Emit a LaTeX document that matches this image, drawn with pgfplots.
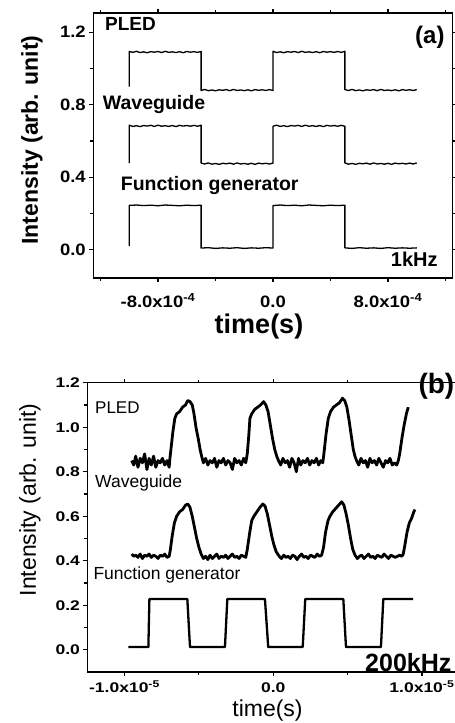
\documentclass[border=0pt]{standalone}
\usepackage{fontspec}
\setmainfont{Liberation Sans}
\usepackage{pgfplots}
\pgfplotsset{compat=1.18}
% tick labels: bold, a little wider than the font
\newcommand{\tla}[1]{\scalebox{1.12}[1]{\fontsize{16.5}{18}\selectfont\bfseries #1}}
\newcommand{\tlb}[1]{\scalebox{1.25}[1]{\fontsize{14}{15}\selectfont\bfseries #1}}

\pgfplotsset{
  scope/.style={
    scale only axis, anchor=south west,
    axis line style={line width=1.3pt},
    tick align=outside, major tick length=4pt, minor tick length=3pt,
    every tick/.style={black, line width=1.1pt},
    cycle list={{black}},
    every axis plot/.append style={black, no marks, line join=round},
  }
}

\begin{document}
\begin{tikzpicture}[x=1pt,y=1pt]
\path[use as bounding box] (0,0) rectangle (455,723);

% ---------------- (a) 1 kHz ----------------
\begin{axis}[scope,
  at={(93.3pt,445pt)}, width=359.4pt, height=265pt,
  xmin=-12.5, xmax=12.5, ymin=-0.155, ymax=1.305,
  xtick={-8,0,8}, minor xtick={-12,-4,4,12},
  xticklabels={\tla{-8.0x10\textsuperscript{-4}},\tla{0.0},\tla{8.0x10\textsuperscript{-4}}},
  ytick={0,0.4,0.8,1.2}, minor ytick={0.2,0.6,1.0},
  yticklabels={\tla{0.0},\tla{0.4},\tla{0.8},\tla{1.2}},
  xticklabel style={anchor=base, yshift=-26pt},
]
% PLED
\addplot[black, line width=1.3pt] table {
-10 0.900
-10 1.093
-9.75 1.088
-9.5 1.094
-9.25 1.087
-9 1.091
-8.75 1.086
-8.5 1.092
-8.25 1.089
-8 1.093
-7.75 1.087
-7.5 1.094
-7.25 1.088
-7 1.091
-6.75 1.087
-6.5 1.092
-6.25 1.086
-6 1.093
-5.75 1.089
-5.5 1.092
-5.25 1.088
-5 1.093
-5 0.878
-4.75 0.884
-4.5 0.877
-4.25 0.881
-4 0.876
-3.75 0.882
-3.5 0.879
-3.25 0.883
-3 0.877
-2.75 0.884
-2.5 0.878
-2.25 0.881
-2 0.877
-1.75 0.882
-1.5 0.876
-1.25 0.883
-1 0.879
-0.75 0.882
-0.5 0.878
-0.25 0.883
0 0.878
0 1.094
0.25 1.087
0.5 1.091
0.75 1.086
1 1.092
1.25 1.089
1.5 1.093
1.75 1.087
2 1.094
2.25 1.088
2.5 1.091
2.75 1.087
3 1.092
3.25 1.086
3.5 1.093
3.75 1.089
4 1.092
4.25 1.088
4.5 1.093
4.75 1.088
5 1.094
5 0.883
5.25 0.878
5.5 0.884
5.75 0.877
6 0.881
6.25 0.876
6.5 0.882
6.75 0.879
7 0.883
7.25 0.877
7.5 0.884
7.75 0.878
8 0.881
8.25 0.877
8.5 0.882
8.75 0.876
9 0.883
9.25 0.879
9.5 0.882
9.75 0.878
10 0.883
};
% Waveguide
\addplot[black, line width=1.3pt] table {
-10 0.478
-10 0.687
-9.75 0.680
-9.5 0.684
-9.25 0.679
-9 0.685
-8.75 0.682
-8.5 0.686
-8.25 0.680
-8 0.687
-7.75 0.681
-7.5 0.684
-7.25 0.680
-7 0.685
-6.75 0.679
-6.5 0.686
-6.25 0.682
-6 0.685
-5.75 0.681
-5.5 0.686
-5.25 0.681
-5 0.687
-5 0.478
-4.75 0.473
-4.5 0.479
-4.25 0.472
-4 0.476
-3.75 0.471
-3.5 0.477
-3.25 0.474
-3 0.478
-2.75 0.472
-2.5 0.479
-2.25 0.473
-2 0.476
-1.75 0.472
-1.5 0.477
-1.25 0.471
-1 0.478
-0.75 0.474
-0.5 0.477
-0.25 0.473
0 0.478
0 0.681
0.25 0.687
0.5 0.680
0.75 0.684
1 0.679
1.25 0.685
1.5 0.682
1.75 0.686
2 0.680
2.25 0.687
2.5 0.681
2.75 0.684
3 0.680
3.25 0.685
3.5 0.679
3.75 0.686
4 0.682
4.25 0.685
4.5 0.681
4.75 0.686
5 0.681
5 0.479
5.25 0.472
5.5 0.476
5.75 0.471
6 0.477
6.25 0.474
6.5 0.478
6.75 0.472
7 0.479
7.25 0.473
7.5 0.476
7.75 0.472
8 0.477
8.25 0.471
8.5 0.478
8.75 0.474
9 0.477
9.25 0.473
9.5 0.478
9.75 0.473
10 0.479
};
% Function generator
\addplot[black, line width=1.3pt] table {
-10 0.020
-10 0.245
-9.5 0.247
-9 0.244
-8.5 0.246
-8 0.243
-7.5 0.247
-7 0.245
-6.5 0.243
-6 0.246
-5.5 0.244
-5 0.246
-5 0.010
-4.5 0.012
-4 0.008
-3.5 0.011
-3 0.009
-2.5 0.012
-2 0.008
-1.5 0.011
-1 0.009
-0.5 0.012
0 0.010
0 0.244
0.5 0.247
1 0.244
1.5 0.246
2 0.243
2.5 0.247
3 0.245
3.5 0.243
4 0.246
4.5 0.244
5 0.246
5 0.011
5.5 0.008
6 0.012
6.5 0.009
7 0.011
7.5 0.008
8 0.012
8.5 0.009
9 0.011
9.5 0.009
10 0.011
};
\end{axis}

\node[anchor=base west, font=\fontsize{19}{21}\selectfont\bfseries, inner sep=0pt] at (105,692.3) {PLED};
\node[anchor=base west, font=\fontsize{19.5}{21}\selectfont\bfseries, inner sep=0pt] at (102.7,613) {Waveguide};
\node[anchor=base west, font=\fontsize{19.5}{21}\selectfont\bfseries, inner sep=0pt] at (120.7,532) {Function generator};
\node[anchor=base west, font=\fontsize{24}{26}\selectfont\bfseries, inner sep=0pt] at (415,679) {(a)};
\node[anchor=base west, font=\fontsize{20}{22}\selectfont\bfseries, inner sep=0pt] at (390.7,456.3) {1kHz};
\node[anchor=base, font=\fontsize{27}{29}\selectfont\bfseries, inner sep=0pt] at (259,389) {time(s)};
\node[rotate=90, font=\fontsize{23}{25}\selectfont\bfseries] at (32,583) {Intensity (arb. unit)};

% ---------------- (b) 200 kHz ----------------
\begin{axis}[scope,
  at={(87.4pt,51pt)}, width=371.75pt, height=289.3pt,
  xmin=-12.5, xmax=12.5, ymin=-0.1, ymax=1.2,
  xtick={-10,0,10}, minor xtick={-5,5},
  xticklabels={\tlb{-1.0x10\textsuperscript{-5}},\tlb{0.0},\tlb{1.0x10\textsuperscript{-5}}},
  ytick={0,0.2,0.4,0.6,0.8,1.0,1.2}, minor ytick={0.1,0.3,0.5,0.7,0.9,1.1},
  yticklabels={\tlb{0.0},\tlb{0.2},\tlb{0.4},\tlb{0.6},\tlb{0.8},\tlb{1.0},\tlb{1.2}},
  xticklabel style={anchor=base, yshift=-17pt, inner sep=0.5pt},
]
% PLED
\addplot[black, line width=2.8pt] table {
-9.52 0.85
-9.38 0.83
-9.25 0.87
-9.10 0.82
-8.95 0.86
-8.80 0.84
-8.65 0.88
-8.50 0.81
-8.35 0.86
-8.20 0.83
-8.05 0.87
-7.90 0.82
-7.75 0.85
-7.60 0.84
-7.45 0.86
-7.30 0.83
-7.15 0.85
-7.00 0.82
-6.95 0.86
-6.85 0.92
-6.75 0.98
-6.62 1.04
-6.50 1.06
-6.30 1.07
-6.10 1.09
-5.90 1.10
-5.75 1.12
-5.60 1.115
-5.45 1.10
-5.33 1.06
-5.20 1.00
-5.05 0.95
-4.92 0.90
-4.82 0.87
-4.70 0.84
-4.55 0.86
-4.40 0.83
-4.25 0.85
-4.10 0.84
-3.95 0.86
-3.80 0.82
-3.65 0.85
-3.50 0.84
-3.35 0.86
-3.20 0.83
-3.05 0.85
-2.90 0.84
-2.75 0.81
-2.60 0.86
-2.45 0.84
-2.30 0.85
-2.15 0.83
-2.00 0.86
-1.85 0.84
-1.75 0.88
-1.65 0.96
-1.57 1.04
-1.45 1.06
-1.25 1.08
-1.05 1.09
-0.85 1.10
-0.65 1.115
-0.50 1.10
-0.35 1.07
-0.20 1.01
-0.05 0.95
0.10 0.90
0.23 0.87
0.35 0.85
0.50 0.83
0.65 0.86
0.80 0.84
0.95 0.85
1.10 0.82
1.25 0.86
1.40 0.84
1.55 0.80
1.70 0.86
1.85 0.83
2.00 0.85
2.15 0.84
2.30 0.86
2.45 0.83
2.60 0.85
2.75 0.84
2.90 0.86
3.05 0.83
3.20 0.85
3.33 0.84
3.42 0.89
3.55 0.97
3.70 1.04
3.85 1.07
4.05 1.09
4.25 1.10
4.45 1.11
4.65 1.13
4.80 1.12
4.95 1.09
5.10 1.03
5.25 0.96
5.38 0.90
5.49 0.87
5.60 0.85
5.75 0.83
5.90 0.86
6.05 0.84
6.20 0.85
6.35 0.82
6.50 0.86
6.65 0.84
6.80 0.85
6.95 0.83
7.10 0.86
7.25 0.84
7.40 0.82
7.55 0.85
7.70 0.84
7.85 0.86
8.00 0.83
8.15 0.84
8.30 0.83
8.41 0.85
8.50 0.88
8.65 0.95
8.80 1.01
8.95 1.06
9.08 1.09
};
% Waveguide
\addplot[black, line width=2.8pt] table {
-9.52 0.43
-9.38 0.42
-9.25 0.425
-9.10 0.415
-8.95 0.43
-8.80 0.41
-8.65 0.425
-8.50 0.42
-8.35 0.43
-8.20 0.415
-8.05 0.425
-7.90 0.42
-7.75 0.41
-7.60 0.425
-7.45 0.42
-7.30 0.43
-7.15 0.415
-7.00 0.42
-6.92 0.45
-6.80 0.51
-6.65 0.57
-6.50 0.60
-6.30 0.62
-6.10 0.63
-5.90 0.65
-5.75 0.655
-5.60 0.64
-5.45 0.60
-5.30 0.55
-5.15 0.50
-5.00 0.46
-4.85 0.43
-4.70 0.41
-4.55 0.42
-4.40 0.405
-4.25 0.425
-4.10 0.41
-3.95 0.42
-3.80 0.43
-3.65 0.41
-3.50 0.42
-3.35 0.415
-3.20 0.425
-3.05 0.41
-2.90 0.42
-2.75 0.43
-2.60 0.415
-2.45 0.42
-2.30 0.41
-2.15 0.425
-2.00 0.42
-1.85 0.415
-1.75 0.45
-1.60 0.52
-1.45 0.58
-1.30 0.60
-1.10 0.62
-0.90 0.64
-0.70 0.655
-0.55 0.645
-0.40 0.61
-0.25 0.56
-0.10 0.51
0.05 0.47
0.20 0.44
0.40 0.42
0.55 0.41
0.70 0.425
0.85 0.415
1.00 0.42
1.15 0.41
1.30 0.425
1.45 0.42
1.60 0.405
1.75 0.42
1.90 0.43
2.05 0.415
2.20 0.42
2.35 0.41
2.50 0.425
2.65 0.42
2.80 0.415
2.95 0.43
3.10 0.42
3.25 0.425
3.38 0.46
3.52 0.53
3.68 0.58
3.81 0.60
4.00 0.62
4.20 0.635
4.40 0.65
4.60 0.665
4.75 0.65
4.90 0.61
5.05 0.56
5.20 0.50
5.35 0.45
5.50 0.425
5.65 0.41
5.80 0.42
5.95 0.425
6.10 0.41
6.25 0.42
6.40 0.43
6.55 0.415
6.70 0.42
6.85 0.41
7.00 0.425
7.15 0.42
7.30 0.415
7.45 0.43
7.60 0.42
7.75 0.41
7.90 0.425
8.05 0.42
8.20 0.415
8.35 0.42
8.50 0.425
8.65 0.42
8.74 0.43
8.85 0.47
9.00 0.53
9.15 0.57
9.30 0.59
9.45 0.62
9.53 0.63
};
% Function generator
\addplot[black, line width=2.3pt] table {
-9.75 0.012
-8.40 0.012
-8.33 0.228
-5.78 0.228
-5.60 0.012
-3.25 0.012
-3.09 0.228
-0.56 0.228
-0.34 0.012
1.98 0.012
2.15 0.228
4.71 0.228
4.89 0.012
7.24 0.012
7.40 0.228
9.41 0.228
};
\end{axis}

\node[anchor=base west, font=\fontsize{17}{19}\selectfont, inner sep=0pt] at (95,309.7) {PLED};
\node[anchor=base west, font=\fontsize{17.5}{19}\selectfont, inner sep=0pt] at (95,235) {Waveguide};
\node[anchor=base west, font=\fontsize{17.5}{19}\selectfont, inner sep=0pt] at (93.3,143) {Function generator};
\node[anchor=base west, font=\fontsize{28}{30}\selectfont\bfseries, inner sep=0pt] at (418.3,329.3) {(b)};
\node[anchor=base west, font=\fontsize{25}{27}\selectfont\bfseries, inner sep=0pt] at (365,51.5) {200kHz};
\node[anchor=base, font=\fontsize{23}{25}\selectfont, inner sep=0pt] at (267.5,6) {time(s)};
\node[rotate=90, font=\fontsize{23}{25}\selectfont] at (30,223) {Intensity (arb. unit)};
\end{tikzpicture}
\end{document}
